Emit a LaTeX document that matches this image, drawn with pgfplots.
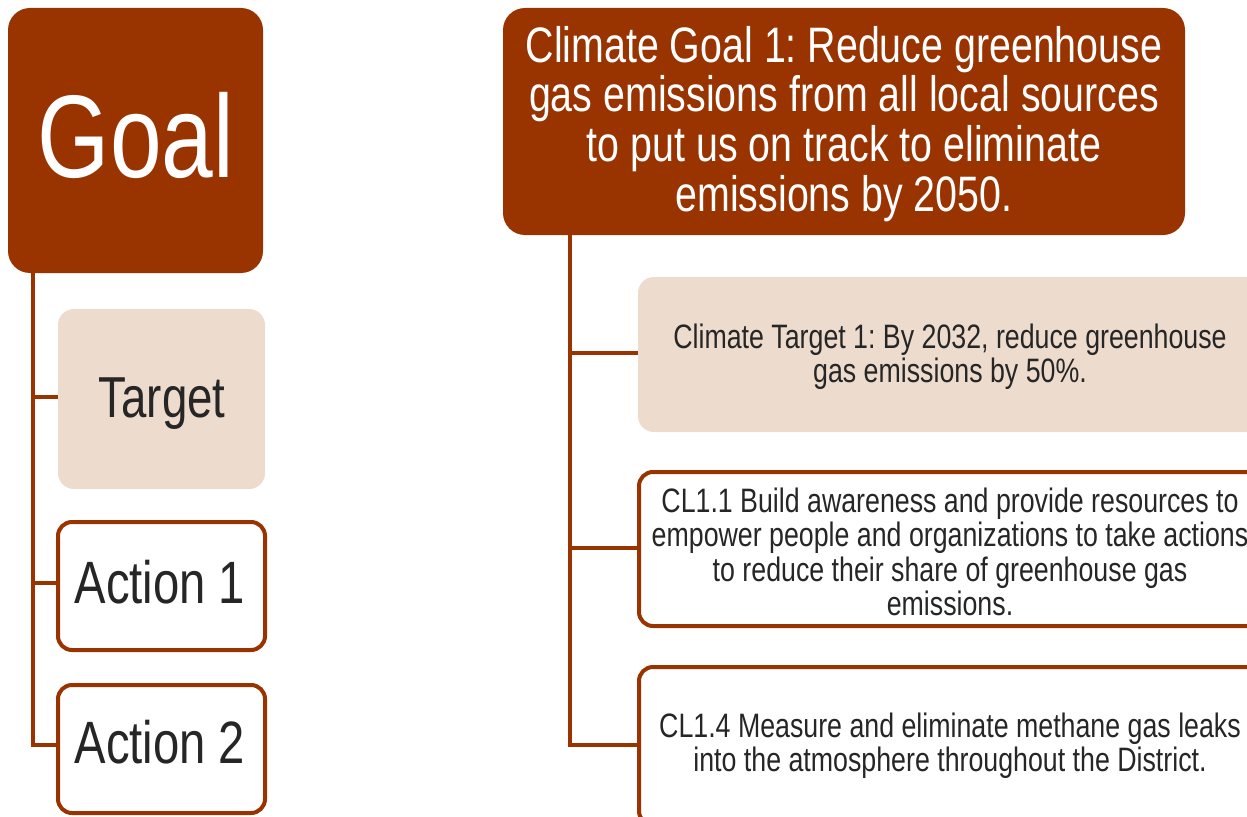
\documentclass[border=0pt]{standalone}
\usepackage{pgfplots}
\pgfplotsset{compat=1.18}
\usepackage{fontspec}
\setmainfont[FakeStretch=0.79]{Liberation Sans}
\frenchspacing
\definecolor{brn}{RGB}{153,51,0}
\definecolor{tgt}{RGB}{237,219,206}
\definecolor{txt}{RGB}{38,38,38}
\begin{document}
\begin{tikzpicture}
\begin{axis}[
  width=1247bp, height=817bp, scale only axis,
  xmin=0, xmax=1247, ymin=0, ymax=817, y dir=reverse,
  axis lines=none, clip=false,
]
% ---------- left legend ----------
\draw[brn, line width=4bp] (axis cs:33,272) -- (axis cs:33,747);
\draw[brn, line width=4bp] (axis cs:31,397) -- (axis cs:60,397);
\draw[brn, line width=4bp] (axis cs:31,583) -- (axis cs:59,583);
\draw[brn, line width=4bp] (axis cs:31,745) -- (axis cs:59,745);
\fill[brn, rounded corners=22bp] (axis cs:8,8) rectangle (axis cs:263,273);
\fill[tgt, rounded corners=16bp] (axis cs:58,309) rectangle (axis cs:265,489);
\draw[brn, fill=white, line width=4bp, rounded corners=14bp] (axis cs:58,522) rectangle (axis cs:265,650);
\draw[brn, fill=white, line width=4bp, rounded corners=14bp] (axis cs:58,685) rectangle (axis cs:265,813);
\node[anchor=base, text=white, inner sep=0pt, font=\fontsize{118}{118}\selectfont] at (axis cs:136,178) {Goal};
\node[anchor=base, text=txt, inner sep=0pt, font=\fontsize{58}{58}\selectfont] at (axis cs:162,417) {Target};
\node[anchor=base, text=txt, inner sep=0pt, font=\fontsize{60}{60}\selectfont] at (axis cs:160,603) {Action 1};
\node[anchor=base, text=txt, inner sep=0pt, font=\fontsize{60}{60}\selectfont] at (axis cs:160,763) {Action 2};
% ---------- right diagram ----------
\draw[brn, line width=4bp] (axis cs:570,234) -- (axis cs:570,747);
\draw[brn, line width=4bp] (axis cs:568,353) -- (axis cs:640,353);
\draw[brn, line width=4bp] (axis cs:568,548) -- (axis cs:639,548);
\draw[brn, line width=4bp] (axis cs:568,745) -- (axis cs:639,745);
\fill[brn, rounded corners=22bp] (axis cs:503,8) rectangle (axis cs:1185,235);
\fill[tgt, rounded corners=16bp] (axis cs:638,277) rectangle (axis cs:1262,432);
\draw[brn, fill=white, line width=4bp, rounded corners=14bp] (axis cs:639,472) rectangle (axis cs:1262,626);
\draw[brn, fill=white, line width=4bp, rounded corners=14bp] (axis cs:639,667) rectangle (axis cs:1262,825);
\node[align=center, text=white, inner sep=0pt, font=\fontsize{50}{50}\selectfont] at (axis cs:844,124)
  {Climate Goal 1: Reduce greenhouse\\gas emissions from all local sources\\to put us on track to eliminate\\emissions by 2050.};
\node[align=center, text=txt, inner sep=0pt, font=\fontsize{34}{34}\selectfont] at (axis cs:950,357)
  {Climate Target 1: By 2032, reduce greenhouse\\gas emissions by 50\%.};
\node[align=center, text=txt, inner sep=0pt, font=\fontsize{34}{34.5}\selectfont] at (axis cs:950,552)
  {CL1.1 Build awareness and provide resources to\\empower people and organizations to take actions\\to reduce their share of greenhouse gas\\emissions.};
\node[align=center, text=txt, inner sep=0pt, font=\fontsize{34}{34}\selectfont] at (axis cs:950,746)
  {CL1.4 Measure and eliminate methane gas leaks\\into the atmosphere throughout the District.};
\end{axis}
\pgfresetboundingbox
\path[use as bounding box] (current axis.south west) rectangle (current axis.north east);
\end{tikzpicture}
\end{document}
